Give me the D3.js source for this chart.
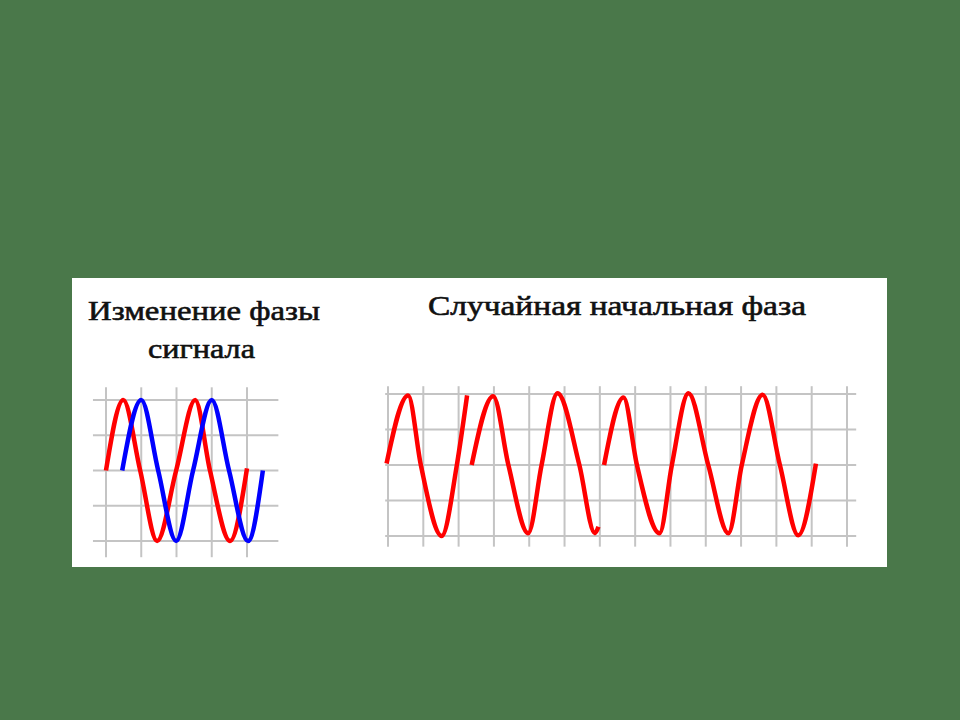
<!DOCTYPE html>
<html>
<head>
<meta charset="utf-8">
<script src="https://cdn.jsdelivr.net/npm/d3@7"></script>
<style>
  html, body { margin: 0; padding: 0; background: #4a784a; }
  svg { display: block; }
</style>
</head>
<body>
<svg id="chart" width="960" height="720"></svg>
<script>
// ---- Titles ----
const leftTitleLines = ["Изменение фазы", "сигнала"];
const rightTitle = "Случайная начальная фаза";

// ---- Grid ticks (grid units) ----
const leftGridX = [0, 1, 2, 3, 4];
const leftGridY = [-1, -0.5, 0, 0.5, 1];
const rightGridX = [0, 1, 2, 3, 4, 5, 6, 7, 8, 9, 10, 11, 12, 13];
const rightGridY = [-1, -0.5, 0, 0.5, 1];

// ---- Left chart: signal before and after a phase change (x in grid units, y amplitude) ----
const leftRed = [[0, 0], [0.49, 1], [0.97, 0], [1.45, -1], [1.99, 0], [2.53, 1], [2.95, 0], [3.52, -1], [4.0, 0.03]];
const leftBlue = [[0.46, 0], [1.0, 1], [1.48, 0], [1.99, -1], [2.47, 0], [3.0, 1], [3.49, 0], [4.03, -1], [4.45, 0]];

// ---- Right chart: three segments with random initial phase ----
const rightSeg1 = [[-0.04, 0.02], [0.57, 0.98], [0.93, 0], [1.52, -1], [1.95, 0], [2.24, 0.98]];
const rightSeg2 = [[2.37, 0], [2.98, 0.97], [3.41, 0], [3.97, -0.96], [4.35, 0], [4.80, 1.01], [5.42, 0], [5.86, -0.96], [5.96, -0.87]];
const rightSeg3 = [[6.12, 0], [6.67, 0.95], [7.05, 0], [7.69, -0.96], [8.04, 0], [8.51, 1.01], [9.07, 0], [9.64, -0.96], [10.02, 0], [10.61, 0.99], [11.1, 0], [11.62, -0.99], [12.12, 0.02]];

const svg = d3.select("#chart");

// white panel
svg.append("rect").attr("x", 72).attr("y", 278).attr("width", 815).attr("height", 289).attr("fill", "#ffffff");

const gridColor = "#c4c4c4";

function drawChart(opts) {
  const g = svg.append("g");
  const x = d3.scaleLinear().domain([0, opts.nx]).range([opts.x0, opts.x1]);
  const y = d3.scaleLinear().domain([-1, 1]).range([opts.y0, opts.y1]);
  g.selectAll("line.h").data(opts.gridY).join("line")
    .attr("x1", x(opts.hExt[0])).attr("x2", x(opts.hExt[1]))
    .attr("y1", d => y(d)).attr("y2", d => y(d))
    .attr("stroke", gridColor).attr("stroke-width", 2);
  g.selectAll("line.v").data(opts.gridX).join("line")
    .attr("x1", d => x(d)).attr("x2", d => x(d))
    .attr("y1", y(opts.vExt[0])).attr("y2", y(opts.vExt[1]))
    .attr("stroke", gridColor).attr("stroke-width", 2);
  const line = d3.line().x(d => x(d[0])).y(d => y(d[1])).curve(d3.curveMonotoneX);
  opts.series.forEach(s => {
    g.append("path").attr("d", line(s.data))
      .attr("fill", "none").attr("stroke", s.color)
      .attr("stroke-width", 4.5).attr("stroke-linejoin", "round").attr("stroke-linecap", "butt");
  });
}

drawChart({
  nx: 4, x0: 106, x1: 247, y0: 541, y1: 400,
  gridX: leftGridX, gridY: leftGridY,
  hExt: [-0.37, 4.89], vExt: [1.18, -1.23],
  series: [{ data: leftRed, color: "#ff0000" }, { data: leftBlue, color: "#0000ff" }]
});

drawChart({
  nx: 13, x0: 388, x1: 847, y0: 536, y1: 394,
  gridX: rightGridX, gridY: rightGridY,
  hExt: [-0.08, 13.26], vExt: [1.11, -1.15],
  series: [
    { data: rightSeg1, color: "#ff0000" },
    { data: rightSeg2, color: "#ff0000" },
    { data: rightSeg3, color: "#ff0000" }
  ]
});

// titles
const titleFont = "'Liberation Serif', 'Times New Roman', serif";
function title(txt, x, y, len) {
  svg.append("text").attr("x", x).attr("y", y)
    .attr("font-family", titleFont).attr("font-size", 28)
    .attr("fill", "#111").attr("stroke", "#111").attr("stroke-width", 0.6)
    .attr("textLength", len).attr("lengthAdjust", "spacingAndGlyphs")
    .text(txt);
}
title(leftTitleLines[0], 88, 320, 232);
title(leftTitleLines[1], 148, 358, 107);
title(rightTitle, 428, 315, 378);
</script>
</body>
</html>
